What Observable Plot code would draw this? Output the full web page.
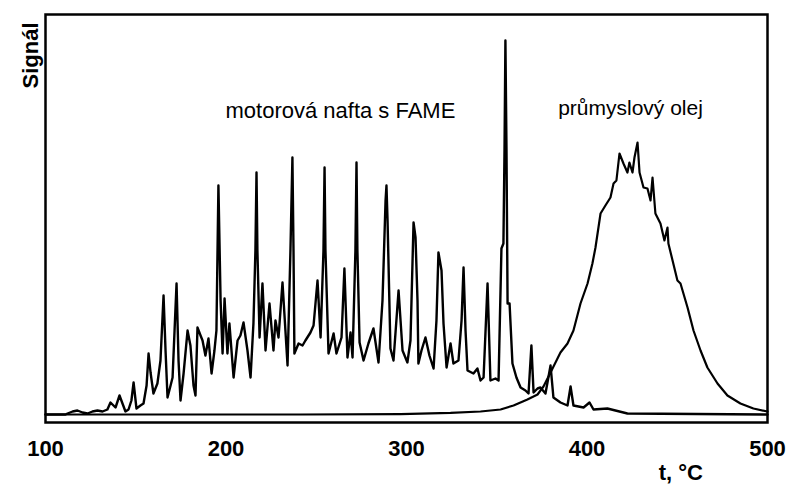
<!DOCTYPE html>
<html>
<head>
<meta charset="utf-8">
<script src="https://cdn.jsdelivr.net/npm/d3@7"></script>
<script src="https://cdn.jsdelivr.net/npm/@observablehq/plot@0.6"></script>
<style>
  html, body { margin: 0; padding: 0; background: #fff; }
</style>
</head>
<body>
<div id="chart"></div>
<script>
// Temperature axis (t, °C)
const xTicks = [100, 200, 300, 400, 500];

// Diesel with FAME ("motorová nafta s FAME") – signal (arbitrary units, 0..100)
const dieselT = [
  100, 111.1, 112.2, 115.0, 117.7, 120.5, 123.3, 126.0, 128.8, 131.6, 134.3, 136.0, 138.8, 141.0,
  144.3, 146.0, 147.6, 148.8, 150.4, 152.6, 154.3, 156.0, 157.1, 158.2, 159.8, 162.0, 163.7, 165.4,
  166.5, 167.6, 169.3, 170.4, 171.5, 172.6, 173.7, 174.8, 176.5, 178.7, 180.3, 182.0, 183.1, 184.2,
  185.9, 187.0, 188.6, 190.3, 192.0, 193.6, 194.7, 195.8, 197.0, 198.1, 199.2, 200.8, 201.9, 204.2,
  206.4, 208.0, 209.7, 211.9, 213.6, 215.2, 216.3, 216.9, 217.4, 218.6, 220.2, 221.9, 224.1, 226.3,
  227.4, 229.1, 231.3, 234.1, 235.7, 236.8, 237.4, 237.9, 240.2, 242.4, 244.0, 246.8, 248.5, 250.7,
  252.4, 254.0, 254.6, 255.1, 256.8, 259.6, 261.2, 264.0, 265.6, 267.3, 269.0, 270.1, 271.7, 272.3,
  272.8, 274.0, 276.2, 278.9, 281.7, 284.5, 286.7, 288.4, 288.9, 289.5, 291.1, 292.8, 295.6, 297.8,
  300.5, 302.2, 303.9, 305.0, 306.1, 306.6, 308.3, 310.5, 312.7, 315.0, 316.6, 317.7, 319.4, 320.5,
  322.2, 324.4, 326.0, 328.8, 330.5, 331.6, 332.7, 333.8, 337.1, 339.3, 341.0, 342.7, 343.8, 344.9,
  346.0, 346.5, 349.3, 351.0, 352.6, 353.7, 354.3, 354.8, 355.4, 356.0, 357.1, 358.7, 360.9, 363.2,
  365.9, 367.6, 369.2, 370.4, 372.6, 374.2, 377.0, 379.8, 381.4, 385.3, 389.2, 390.9, 392.5, 398.1,
  401.4, 403.6, 411.3, 422.4, 500
];
const dieselSignal = [
  0, 0, 0.25, 0.75, 1.0, 0.5, 0.25, 0.75, 1.0, 0.75, 1.25, 3.0, 1.75, 4.75,
  0.75, 1.25, 3.5, 8.0, 1.5, 2.25, 2.75, 7.25, 15.25, 10.5, 5.25, 7.75, 13.5, 29.75,
  16.0, 4.25, 7.25, 9.25, 21.0, 32.75, 13.5, 3.5, 10.25, 21.0, 17.25, 7.25, 4.75, 21.75,
  19.75, 18.5, 14.75, 19.0, 10.25, 16.0, 21.0, 57.25, 28.5, 15.25, 29.0, 15.25, 22.75, 9.25,
  18.5, 19.75, 23.0, 16.0, 9.25, 22.75, 41.0, 60.5, 41.0, 19.25, 32.75, 16.0, 27.75, 16.0,
  23.5, 19.25, 33.0, 12.25, 41.0, 64.25, 41.0, 15.25, 17.75, 17.25, 18.5, 20.5, 22.25, 33.5,
  19.25, 41.0, 61.75, 41.0, 15.25, 20.25, 15.25, 19.25, 36.5, 14.25, 20.5, 14.25, 41.0, 63.0,
  41.0, 18.0, 13.5, 17.75, 21.5, 13.0, 28.5, 53.5, 57.25, 48.5, 16.5, 13.5, 31.0, 16.0,
  13.0, 18.5, 48.0, 44.25, 28.5, 12.75, 16.0, 19.25, 14.75, 11.5, 23.5, 40.5, 36.0, 22.75,
  11.75, 17.75, 12.75, 13.5, 23.5, 36.75, 21.0, 11.0, 10.25, 11.5, 8.5, 9.25, 21.0, 32.75,
  16.0, 8.5, 9.0, 8.5, 41.5, 42.75, 66.0, 93.5, 66.0, 27.75, 27.75, 12.75, 9.25, 6.75,
  6.0, 5.25, 17.25, 5.5, 6.5, 6.75, 5.25, 12.25, 4.25, 3.0, 2.25, 7.0, 2.25, 1.75,
  3.0, 1.25, 1.5, 0.25, 0
];

// Industrial oil ("průmyslový olej")
const oilT = [
  100, 241.3, 296.7, 324.4, 341.0, 352.1, 359.3, 367.0, 372.6, 375.9, 379.8, 385.3, 389.2, 392.5,
  396.4, 400.3, 403.0, 404.7, 407.5, 410.2, 413.0, 414.7, 416.3, 418.0, 420.2, 422.4, 423.5, 425.2,
  426.3, 428.0, 429.1, 431.3, 433.5, 435.2, 436.3, 437.9, 440.7, 442.9, 444.6, 445.1, 447.4, 450.1,
  451.8, 455.7, 459.0, 462.9, 466.7, 472.3, 477.8, 485.0, 492.2, 500
];
const oilSignal = [
  0, 0, 0.1, 0.4, 0.75, 1.25, 2.25, 3.75, 5.0, 7.0, 10.5, 15.5, 17.75, 21.0,
  27.75, 32.75, 37.75, 41.75, 50.25, 52.25, 54.25, 57.75, 58.5, 65.25, 62.75, 60.5, 63.0, 60.5,
  64.25, 68.0, 60.5, 56.75, 56.5, 53.5, 59.25, 50.25, 47.75, 43.5, 46.75, 42.75, 38.5, 33.5,
  32.75, 26.75, 21.0, 16.0, 11.75, 7.75, 4.75, 2.75, 1.5, 0.75
];

// Annotation labels
const seriesLabels = ["motorová nafta s FAME", "průmyslový olej"];
const labelT = [263.4, 424.1];
const labelSignal = [75.8, 76.5];
const yLabel = "Signál";
const xLabel = "t, °C";
const xLabelT = 452;

const diesel = dieselT.map((t, i) => ({t, s: dieselSignal[i]}));
const oil = oilT.map((t, i) => ({t, s: oilSignal[i]}));
const notes = seriesLabels.map((text, i) => ({text, t: labelT[i], s: labelSignal[i]}));

const chart = Plot.plot({
  width: 786,
  height: 489,
  marginLeft: 45,
  marginRight: 19,
  marginTop: 14,
  marginBottom: 67,
  style: {fontFamily: "'Liberation Sans', Arial, sans-serif", fontSize: "22px", background: "white", color: "black"},
  x: {domain: [100, 500]},
  y: {domain: [-2, 100], axis: null},
  marks: [
    Plot.line(oil, {x: "t", y: "s", stroke: "black", strokeWidth: 2.2, strokeLinejoin: "round"}),
    Plot.line(diesel, {x: "t", y: "s", stroke: "black", strokeWidth: 2.4, strokeLinejoin: "round"}),
    Plot.frame({stroke: "black", strokeWidth: 2.5}),
    Plot.axisX({ticks: xTicks, tickSize: 0, tickPadding: 18, fontSize: 22, fontWeight: "bold", label: null}),
    Plot.text(notes.slice(0, 1), {x: "t", y: "s", text: "text", fontSize: 22, fill: "black"}),
    Plot.text(notes.slice(1), {x: "t", y: "s", text: "text", fontSize: 21, fill: "black"}),
    Plot.text([xLabel], {x: [xLabelT], frameAnchor: "bottom", dy: 57, fontSize: 22, fontWeight: "bold", fill: "black"}),
    Plot.text([yLabel], {frameAnchor: "top-left", dx: -23, dy: 8, rotate: -90, textAnchor: "end", fontSize: 22, fontWeight: "bold", fill: "black"})
  ]
});
document.getElementById("chart").appendChild(chart);
</script>
</body>
</html>
